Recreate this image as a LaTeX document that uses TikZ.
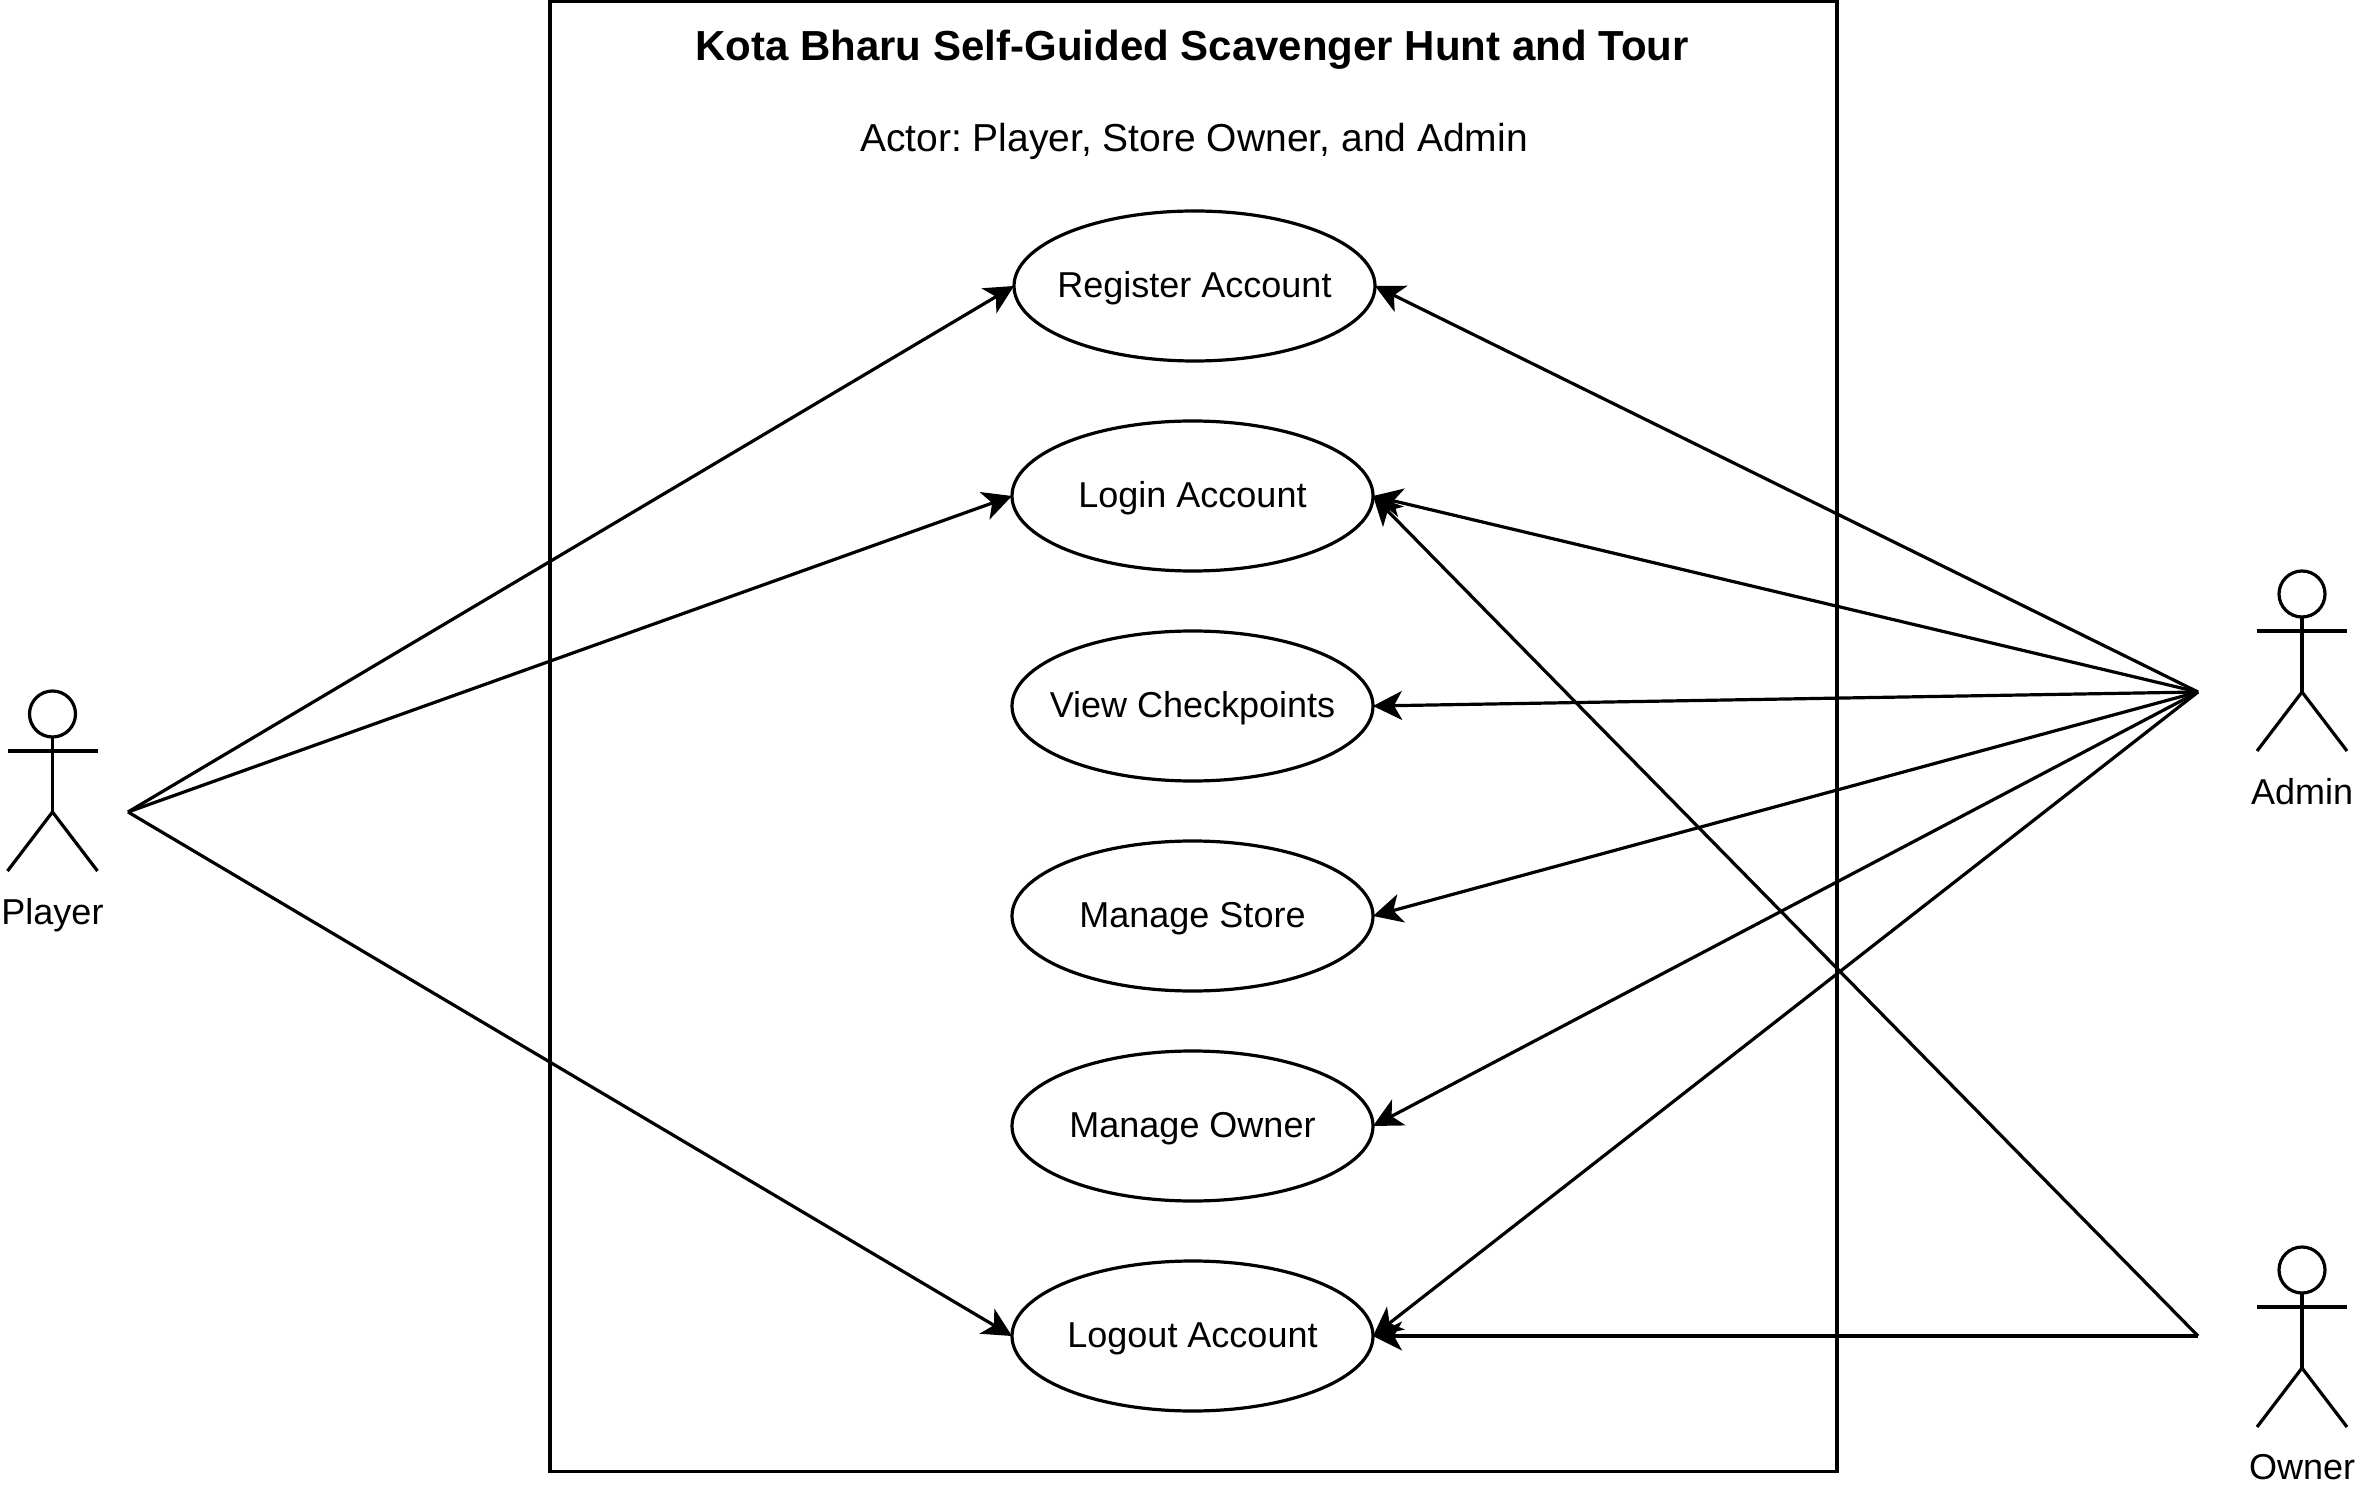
\documentclass[tikz,border=0pt]{standalone}
\usepackage{fontspec}
\setmainfont{Liberation Sans}
\usepackage{xcolor}
\usepackage{tikz}
\usetikzlibrary{shapes.geometric, arrows.meta, positioning}

\begin{document}
\begin{tikzpicture}[
    x=0.5pt, y=-0.5pt,
    node distance=30pt,
    line width=1.6pt,
    font=\frenchspacing\fontsize{18}{22}\selectfont,
    usecase/.style={draw, ellipse, inner xsep=-40pt, inner ysep=0pt, outer sep=0pt, minimum width=180.5pt, minimum height=75pt, text height=14pt, text depth=2.6pt, align=center},
    arrow/.style={-{Stealth[length=14.5pt, width=14.5pt, inset=4pt]}},
    limb/.style={line cap=butt},
    actorhead/.style={draw, circle, inner sep=0pt, outer sep=0pt, minimum size=23pt},
    actor/.pic={
        \node[actorhead] (-head) at (0,-98) {};
        \draw[limb] (-head.south) -- (0,0);
        \draw[limb] (-45,-61) -- (45,-61);
        \draw[limb] (-45,59) -- (0,0) -- (45,59);
    }
]
    \useasboundingbox (0,0) rectangle (2355,1491);
    \node[draw, minimum width=643.5pt, minimum height=735pt, outer sep=0pt] (system) at (1193.5,736.5) {};

    \node[font=\frenchspacing\fontsize{21}{25}\selectfont\bfseries] (title) at (1192,50) {Kota Bharu Self-Guided Scavenger Hunt and Tour};
    \node[font=\frenchspacing\fontsize{19.5}{24}\selectfont] (subtitle) at (1194,141) {Actor: Player, Store Owner, and Admin};

    \node[usecase] (register) at (1194.5,286) {Register Account};
    \node[usecase] (login) at (1192.5,496) {Login Account};
    \node[usecase, below=of login] (view) {View Checkpoints};
    \node[usecase, below=of view] (store) {Manage Store};
    \node[usecase, below=of store] (owner) {Manage Owner};
    \node[usecase, below=of owner] (logout) {Logout Account};

    % actors
    \pic (playerfig) at (52.5,812) {actor};
    \pic (adminfig) at (2302,692) {actor};
    \pic (ownerfig) at (2302,1368) {actor};
    \node (playerlabel) at (52.5,915.5) {Player};
    \node (adminlabel) at (2302,792) {Admin};
    \node (ownerlabel) at (2302,1467) {Owner};

    \coordinate (playerend) at (128,812);
    \coordinate (adminend) at (2198,692);
    \coordinate (ownerend) at (2198,1336);

    \draw[arrow] (playerend) -- (register.west);
    \draw[arrow] (playerend) -- (login.west);
    \draw[arrow] (playerend) -- (logout.west);

    \foreach \target in {register, login, view, store, owner, logout}
        \draw[arrow] (adminend) -- (\target.east);

    \draw[arrow] (ownerend) -- (login.east);
    \draw[arrow] (ownerend) -- (logout.east);
\end{tikzpicture}
\end{document}
